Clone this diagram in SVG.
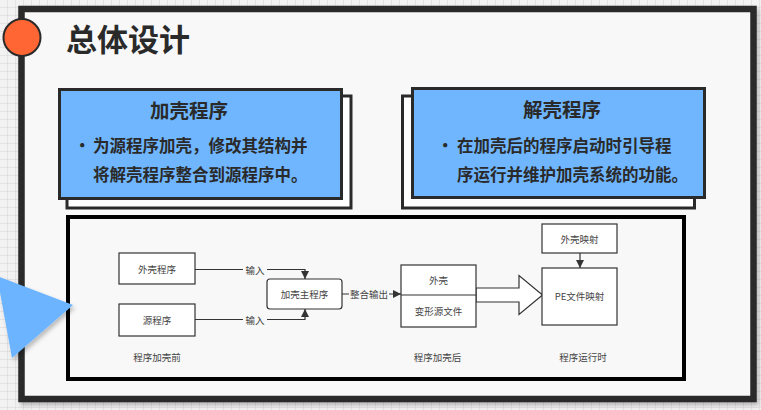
<svg xmlns="http://www.w3.org/2000/svg" width="761" height="410" viewBox="0 0 761 410">
<defs>
<pattern id="grid" width="8" height="8" patternUnits="userSpaceOnUse">
<rect width="8" height="8" fill="#f2f2f2"/>
<path d="M8 0V8M0 8H8" stroke="#d4d4d4" stroke-width="1" fill="none"/>
</pattern>
<filter id="sh" x="-20%" y="-20%" width="140%" height="140%">
<feDropShadow dx="2" dy="3" stdDeviation="2" flood-color="#000" flood-opacity="0.25"/>
</filter>
<marker id="ah" viewBox="0 0 10 10" refX="10" refY="5" markerWidth="8" markerHeight="8" markerUnits="userSpaceOnUse" orient="auto">
<path d="M0 0L10 5L0 10Z" fill="#333"/>
</marker>
</defs>
<style>
.t{font-family:"Noto Sans CJK SC","Noto Sans",sans-serif;}
.title{font-size:31px;font-weight:bold;fill:#2a2a2a;}
.h{font-size:19.5px;font-weight:bold;fill:#2a2a2a;text-anchor:middle;}
.b{font-size:16.5px;font-weight:bold;fill:#2a2a2a;}
.s{font-size:9.5px;fill:#444;text-anchor:middle;dominant-baseline:central;}
.box{fill:#ffffff;stroke:#333;stroke-width:1.2;}
.ln{fill:none;stroke:#333;stroke-width:1.2;}
.card{fill:#6fb6ff;stroke:#2a2a2a;stroke-width:3;}
.shadow{fill:#ffffff;stroke:#2a2a2a;stroke-width:3;}
</style>
<rect width="761" height="410" fill="url(#grid)"/>
<g id="frame">
<rect x="21.5" y="9" width="732" height="390" fill="#f8f8f8" stroke="#2a2a2a" stroke-width="6.5" filter="url(#sh)"/>
</g>
<g id="badge">
<circle cx="22" cy="37.5" r="18.5" fill="#ff6633" stroke="#2a2a2a" stroke-width="2"/>
</g>
<g id="title">
<text class="t title" x="66" y="51">总体设计</text>
</g>
<g id="card-left">
<rect class="shadow" x="67" y="96" width="284" height="112"/>
<rect class="card" x="59.5" y="89.5" width="282" height="109"/>
<text class="t h" x="189" y="118">加壳程序</text>
<text class="t b" x="74" y="152">•</text>
<text class="t b" x="93" y="152">为源程序加壳，修改其结构并</text>
<text class="t b" x="93" y="181">将解壳程序整合到源程序中。</text>
</g>
<g id="card-right">
<rect class="shadow" x="402.5" y="96" width="292" height="112"/>
<rect class="card" x="412.5" y="88.5" width="292" height="109"/>
<text class="t h" x="562" y="117">解壳程序</text>
<text class="t b" x="437" y="152">•</text>
<text class="t b" x="457" y="152">在加壳后的程序启动时引导程</text>
<text class="t b" x="457" y="181">序运行并维护加壳系统的功能。</text>
</g>
<g id="diagram-frame">
<rect x="68" y="217" width="616" height="162" fill="#f8f8f8" stroke="#000" stroke-width="4"/>
</g>
<g id="connectors">
<path class="ln" d="M195 269.5H305V279" marker-end="url(#ah)"/>
<path class="ln" d="M195 319.5H305V309" marker-end="url(#ah)"/>
<path class="ln" d="M342 294H401" marker-end="url(#ah)"/>
<path class="ln" d="M580 253V268" marker-end="url(#ah)"/>
<path d="M476 288H519V275.5L542.5 295L519 314.5V302H476Z" fill="#ffffff" stroke="#333" stroke-width="1.2"/>
<rect x="243" y="263" width="24" height="12" fill="#f8f8f8"/>
<text class="t s" x="255" y="269.5">输入</text>
<rect x="243" y="313" width="24" height="12" fill="#f8f8f8"/>
<text class="t s" x="255" y="319.5">输入</text>
<rect x="349" y="288" width="40" height="12" fill="#f8f8f8"/>
<text class="t s" x="369" y="294">整合输出</text>
</g>
<g id="n-shell">
<rect class="box" x="119" y="253" width="76" height="31"/>
<text class="t s" x="157" y="268.5">外壳程序</text>
</g>
<g id="n-src">
<rect class="box" x="119" y="304" width="76" height="32"/>
<text class="t s" x="157" y="320">源程序</text>
</g>
<g id="n-main">
<rect class="box" x="267" y="279" width="75" height="30" rx="3"/>
<text class="t s" x="304.5" y="294">加壳主程序</text>
</g>
<g id="n-packed">
<rect class="box" x="401" y="265" width="75" height="62"/>
<path class="ln" d="M401 295H476"/>
<text class="t s" x="438.5" y="280">外壳</text>
<text class="t s" x="438.5" y="311">变形源文件</text>
</g>
<g id="n-shellmap">
<rect class="box" x="542" y="224" width="75" height="29"/>
<text class="t s" x="579.5" y="238.5">外壳映射</text>
</g>
<g id="n-pe">
<rect class="box" x="542" y="268" width="75" height="57"/>
<text class="t s" x="579.5" y="296">PE文件映射</text>
</g>
<g id="labels">
<text class="t s" x="157" y="357">程序加壳前</text>
<text class="t s" x="437.5" y="357">程序加壳后</text>
<text class="t s" x="583" y="357">程序运行时</text>
</g>
<g id="pointer">
<polygon points="-3,276 73,305 12,358" fill="#6cb4ff" filter="url(#sh)"/>
</g>
</svg>
